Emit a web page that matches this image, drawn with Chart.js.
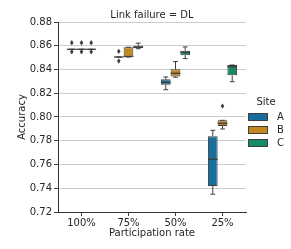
<!DOCTYPE html>
<html>
<head>
<meta charset="utf-8">
<script src="https://cdn.jsdelivr.net/npm/chart.js@4.4.1/dist/chart.umd.min.js"></script>
<style>
  html, body { margin: 0; padding: 0; background: #fff; }
  canvas { display: block; }
</style>
</head>
<body>
<canvas id="chart" width="291" height="249"></canvas>
<script>
// participation rates on the x axis
var categories = ['100%', '75%', '50%', '25%'];
var sites = ['A', 'B', 'C'];
var siteColors = ['#176d9c', '#c38820', '#168b6a'];

// per category: [lower whisker, q1, median, q3, upper whisker]
var boxesA = [
    [0.857, 0.857, 0.857, 0.857, 0.857],
    [0.8505, 0.8505, 0.8505, 0.8505, 0.8505],
    [0.823, 0.8272, 0.8292, 0.8317, 0.8337],
    [0.735, 0.742, 0.7644, 0.7837, 0.7888]
];
var boxesB = [
    [0.857, 0.857, 0.857, 0.857, 0.857],
    [0.8505, 0.8508, 0.851, 0.8587, 0.8588],
    [0.8335, 0.8342, 0.8368, 0.8402, 0.8467],
    [0.7899, 0.7924, 0.7947, 0.7972, 0.7972]
];
var boxesC = [
    [0.857, 0.857, 0.857, 0.857, 0.857],
    [0.8575, 0.8581, 0.8588, 0.86, 0.8622],
    [0.8492, 0.8521, 0.8545, 0.8558, 0.859],
    [0.8297, 0.8351, 0.8424, 0.8438, 0.8438]
];
var outliersA = [[0.8625, 0.855], [0.8553, 0.8472], [], []];
var outliersB = [[0.8625, 0.855], [], [], [0.8092]];
var outliersC = [[0.8625, 0.855], [], [], []];

// y axis ticks
var yMin = 0.72, yMax = 0.88, yStep = 0.02;

var allBoxes = [boxesA, boxesB, boxesC];
var allOutliers = [outliersA, outliersB, outliersC];

var edge = '#3f3f3f';
var textColor = '#262626';

Chart.defaults.font.family = 'DejaVu Sans';
Chart.defaults.font.size = 10;
Chart.defaults.color = textColor;

var whiskerPlugin = {
    id: 'whiskers',
    afterDatasetsDraw: function (chart) {
        var ctx = chart.ctx;
        var y = chart.scales.y;
        ctx.save();
        ctx.strokeStyle = edge;
        ctx.fillStyle = edge;
        ctx.lineWidth = 1;
        chart.data.datasets.forEach(function (ds, di) {
            var meta = chart.getDatasetMeta(di);
            meta.data.forEach(function (bar, i) {
                var b = allBoxes[di][i];
                var x = bar.x, half = bar.width / 2;
                var yLo = y.getPixelForValue(b[0]);
                var yQ1 = y.getPixelForValue(b[1]);
                var yMed = y.getPixelForValue(b[2]);
                var yQ3 = y.getPixelForValue(b[3]);
                var yHi = y.getPixelForValue(b[4]);
                ctx.beginPath();
                // whiskers
                ctx.moveTo(x, yQ1); ctx.lineTo(x, yLo);
                ctx.moveTo(x, yQ3); ctx.lineTo(x, yHi);
                // caps
                ctx.moveTo(x - half / 2, yLo); ctx.lineTo(x + half / 2, yLo);
                ctx.moveTo(x - half / 2, yHi); ctx.lineTo(x + half / 2, yHi);
                ctx.stroke();
                // median
                ctx.beginPath();
                ctx.lineWidth = 1.3;
                ctx.moveTo(x - half, yMed); ctx.lineTo(x + half, yMed);
                ctx.stroke();
                ctx.lineWidth = 1;
                // outliers as thin diamonds
                allOutliers[di][i].forEach(function (v) {
                    var py = y.getPixelForValue(v);
                    ctx.beginPath();
                    ctx.moveTo(x, py - 2.7);
                    ctx.lineTo(x + 1.8, py);
                    ctx.lineTo(x, py + 2.7);
                    ctx.lineTo(x - 1.8, py);
                    ctx.closePath();
                    ctx.fill();
                });
            });
        });
        ctx.restore();
    }
};

var legendPlugin = {
    id: 'siteLegend',
    afterDraw: function (chart) {
        var ctx = chart.ctx;
        var area = chart.chartArea;
        var left = area.right + 2;
        ctx.save();
        ctx.font = '10px "DejaVu Sans"';
        ctx.fillStyle = textColor;
        ctx.textBaseline = 'middle';
        ctx.textAlign = 'center';
        ctx.fillText('Site', left + 18, 102);
        ctx.textAlign = 'left';
        sites.forEach(function (s, i) {
            var cy = 117 + i * 13;
            ctx.fillStyle = siteColors[i];
            ctx.fillRect(left, cy - 3.5, 20, 7);
            ctx.strokeStyle = edge;
            ctx.lineWidth = 1;
            ctx.strokeRect(left + 0.5, cy - 3.5, 19, 7);
            ctx.fillStyle = textColor;
            ctx.fillText(s, left + 29, cy + 0.5);
        });
        ctx.restore();
    }
};

new Chart(document.getElementById('chart'), {
    type: 'bar',
    data: {
        labels: categories,
        datasets: sites.map(function (s, i) {
            return {
                label: s,
                data: allBoxes[i].map(function (b) { return [b[1], b[3]]; }),
                backgroundColor: siteColors[i],
                borderColor: edge,
                borderWidth: 1,
                borderSkipped: false,
                categoryPercentage: 0.62,
                barPercentage: 1.0
            };
        })
    },
    options: {
        responsive: false,
        animation: false,
        devicePixelRatio: 1,
        layout: { padding: { top: 3, right: 45, bottom: 0, left: 0 } },
        plugins: {
            legend: { display: false },
            tooltip: { enabled: false },
            title: {
                display: true,
                text: 'Link failure = DL',
                fullSize: false,
                color: textColor,
                font: { size: 10, weight: 'normal' },
                padding: { top: 6, bottom: 1 }
            }
        },
        scales: {
            x: {
                grid: { display: true, drawOnChartArea: false, drawTicks: true, tickLength: 4, tickColor: edge, offset: false },
                border: { color: '#333', width: 1 },
                ticks: { padding: 1, color: textColor },
                title: { display: true, text: 'Participation rate', color: textColor, padding: { top: 0, bottom: 10 } },
                afterFit: function (s) { s.height = 37; }
            },
            y: {
                min: yMin,
                max: yMax,
                ticks: {
                    stepSize: yStep,
                    padding: 2,
                    color: textColor,
                    callback: function (v) { return v.toFixed(2); }
                },
                grid: { color: '#cccccc', tickColor: edge, tickLength: 4 },
                border: { color: '#333', width: 1 },
                title: { display: true, text: 'Accuracy', color: textColor, padding: { top: 16, bottom: 0 } },
                afterFit: function (s) { s.width = 58; }
            }
        }
    },
    plugins: [whiskerPlugin, legendPlugin]
});
</script>
</body>
</html>
